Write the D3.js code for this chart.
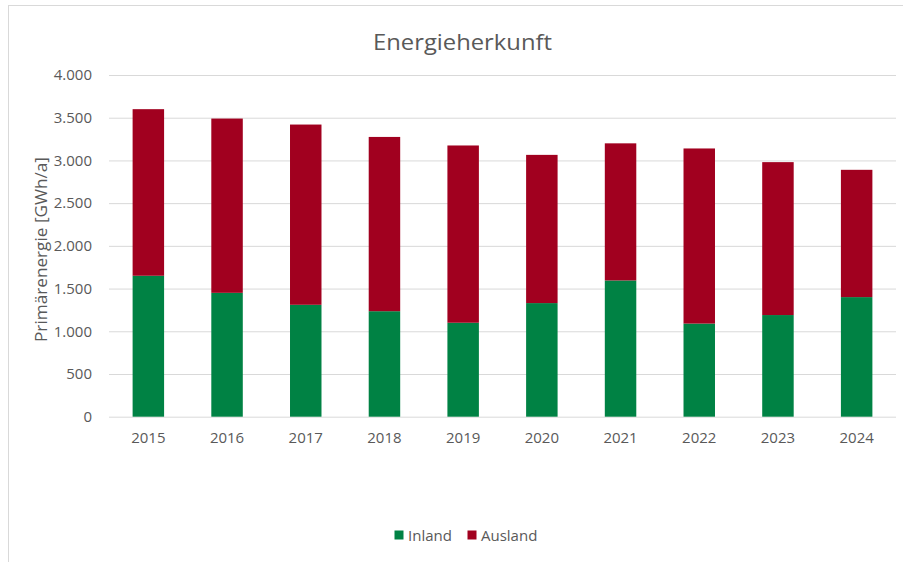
<!DOCTYPE html>
<html><head><meta charset="utf-8">
<script src="https://cdn.jsdelivr.net/npm/d3@7"></script>
<style>body{margin:0;background:#fff;}svg{display:block;font-family:"Open Sans",Lato,sans-serif;}</style>
</head><body>
<svg id="c" width="903" height="562"></svg>
<script>
const years = ["2015","2016","2017","2018","2019","2020","2021","2022","2023","2024"];
const inland = [1650,1450,1310,1235,1100,1330,1595,1090,1190,1400];
const ausland = [1950,2040,2110,2040,2075,1735,1605,2050,1790,1490];
const yTicks = [0,500,1000,1500,2000,2500,3000,3500,4000];
const seriesNames = ["Inland","Ausland"];
const colors = ["#008244","#a1001f"];

const svg = d3.select("#c");
const W=903,H=562;
const m={l:109,r:7};
const x = d3.scaleBand().domain(years).range([m.l,W-m.r]).paddingInner(0.6).paddingOuter(0.3);
const y = d3.scaleLinear().domain([0,4000]).range([416.7,75]);
const FONT = "'Open Sans',Lato,sans-serif";

// border
svg.append("rect").attr("x",8.5).attr("y",5.5).attr("width",W).attr("height",H).attr("fill","none").attr("stroke","#d9d9d9");

// title
svg.append("text").attr("x",373).attr("y",50).attr("font-size",22).attr("fill","#595959")
  .attr("textLength",179).attr("lengthAdjust","spacingAndGlyphs").text("Energieherkunft");

// grid
const yAxis = d3.axisLeft(y).tickValues(yTicks).tickSize(-(W-m.r-m.l)).tickPadding(17)
  .tickFormat(d=>d3.format(",")(d).replace(/,/g,"."));
const ga = svg.append("g").attr("transform",`translate(${m.l},0)`).call(yAxis);
ga.select(".domain").remove();
ga.selectAll("line").attr("stroke","#d9d9d9").attr("stroke-width",1);
ga.selectAll("text").attr("fill","#595959").attr("font-size",15).attr("font-family",FONT);

// bars
const data = years.map((yr,i)=>({year:yr,Inland:inland[i],Ausland:ausland[i]}));
const stack = d3.stack().keys(seriesNames)(data);
svg.append("g").selectAll("g").data(stack).join("g").attr("fill",(d,i)=>colors[i])
  .selectAll("rect").data(d=>d).join("rect")
  .attr("x",d=>x(d.data.year)).attr("width",x.bandwidth())
  .attr("y",d=>y(d[1])).attr("height",d=>y(d[0])-y(d[1]));

// x axis
const xAxis = d3.axisBottom(x).tickSize(0).tickPadding(16);
const gx = svg.append("g").attr("transform",`translate(0,${y(0)})`).call(xAxis);
gx.select(".domain").remove();
gx.selectAll("text").attr("fill","#595959").attr("font-size",15).attr("font-family",FONT);

// y title
svg.append("text").attr("transform","translate(47,249.5) rotate(-90)").attr("text-anchor","middle")
  .attr("font-size",16.5).attr("fill","#595959")
  .attr("textLength",185).attr("lengthAdjust","spacingAndGlyphs").text("Primärenergie [GWh/a]");

// legend
const leg = svg.append("g");
const legX=[394.5,467.5];
seriesNames.forEach((n,i)=>{
  leg.append("rect").attr("x",legX[i]).attr("y",530.5).attr("width",9).attr("height",9).attr("fill",colors[i]);
  leg.append("text").attr("x",legX[i]+13.5).attr("y",541).attr("font-size",15).attr("fill","#595959").text(n);
});
</script>
</body></html>
